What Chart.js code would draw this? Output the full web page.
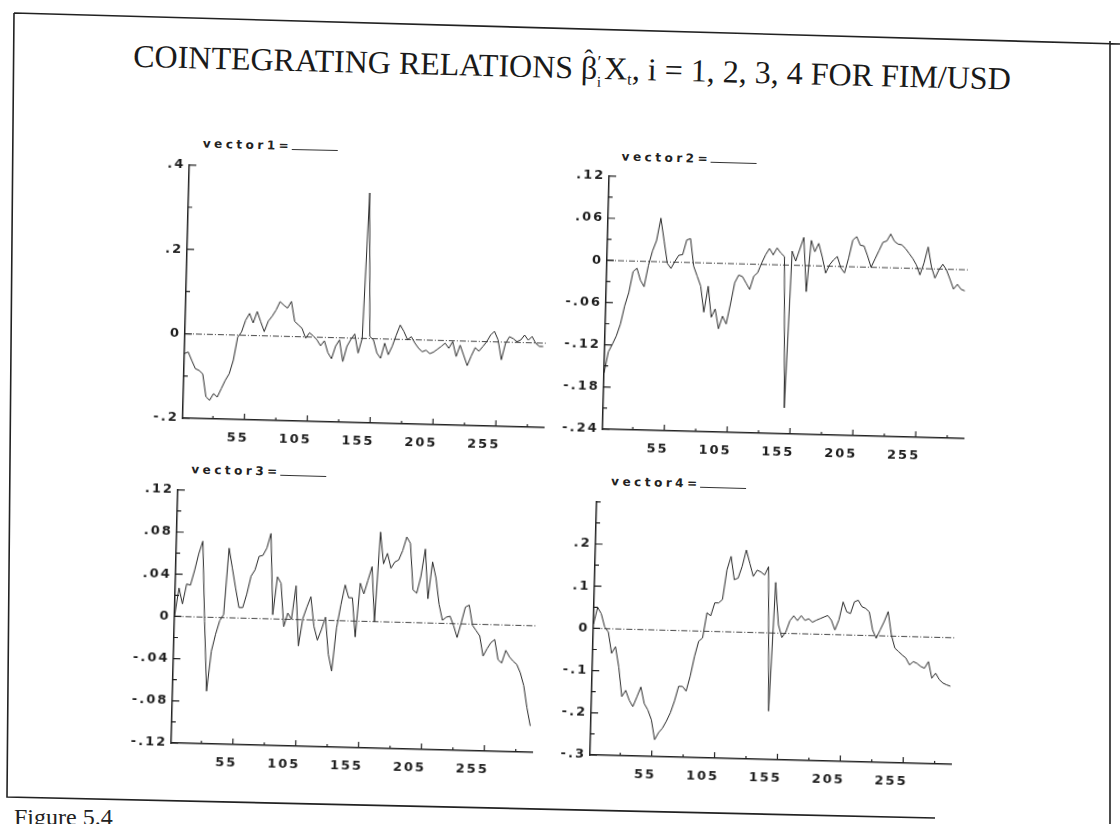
<!DOCTYPE html>
<html>
<head>
<meta charset="utf-8">
<script src="https://cdn.jsdelivr.net/npm/chart.js@4.4.0/dist/chart.umd.min.js"></script>
<style>
  html, body { margin: 0; padding: 0; background: #fff; width: 1120px; height: 824px; overflow: hidden; }
  #frame { position: absolute; left: 0; top: 0; }
  #page { position: absolute; left: 0; top: 0; width: 1120px; height: 824px; transform: rotate(1.5deg); transform-origin: 560px 412px; }
  #title { position: absolute; left: 0; width: 1126px; top: 47px; line-height: 40px; text-align: center; font-family: 'Liberation Serif', serif; font-size: 32px; color: #1a1a1a; white-space: nowrap; }
  #title sub { font-size: 0.5em; vertical-align: -0.3em; }
  .beta { position: relative; }
  .hat { position: absolute; left: 3px; top: -10px; font-style: normal; font-size: 26px; }
  .stack { display: inline-block; position: relative; width: 7px; height: 22px; }
  .stack b { position: absolute; left: 0; font-weight: normal; line-height: 16px; }
  .stack .pr { top: -3px; font-size: 18px; }
  .stack .sb { top: 17px; font-size: 15px; }
  .ptitle { position: absolute; font: bold 12px 'DejaVu Sans', sans-serif; letter-spacing: 3.5px; color: #222; line-height: 16px; white-space: nowrap; }
  .ptitle span { display: inline-block; width: 46px; height: 11px; border-bottom: 1.5px solid #333; vertical-align: top; }
  canvas { position: absolute; }
  #caption { position: absolute; left: 14px; top: 805px; font: 24px 'Liberation Serif', serif; line-height: 24px; color: #222; }
</style>
</head>
<body>
<svg id="frame" width="1120" height="824">
  <path d="M14,13 L1120,44 M1110,41 L1110,824 M14,13 L7,797 L935,818" stroke="#222" stroke-width="1.6" fill="none"/>
</svg>
<div id="page">
  <div id="title">COINTEGRATING RELATIONS <span class="beta">β<i class="hat">ˆ</i></span><span class="stack"><b class="pr">′</b><b class="sb">i</b></span>X<sub>t</sub>, i = 1, 2, 3, 4 FOR FIM/USD</div>
  <div class="ptitle" style="left:196px; top:145px;">vector1=<span></span></div>
  <div class="ptitle" style="left:615px; top:147px;">vector2=<span></span></div>
  <div class="ptitle" style="left:193px; top:471px;">vector3=<span></span></div>
  <div class="ptitle" style="left:613px; top:472px;">vector4=<span></span></div>
  <canvas id="chart1" width="423" height="291" style="left:133px; top:163px;"></canvas>
  <canvas id="chart2" width="423" height="291" style="left:553px; top:163px;"></canvas>
  <canvas id="chart3" width="423" height="291" style="left:130px; top:488px;"></canvas>
  <canvas id="chart4" width="423" height="291" style="left:549px; top:489px;"></canvas>
</div>
<div id="caption">Figure 5.4</div>
<script>
let tValues = [
  6, 9, 12, 15, 18, 21, 24, 27, 30, 33,
  36, 39, 42, 45, 48, 51, 54, 57, 60, 63,
  66, 69, 72, 75, 78, 81, 84, 87, 90, 93,
  96, 99, 102, 105, 108, 111, 114, 117, 120, 123,
  126, 129, 132, 135, 138, 141, 144, 147, 150, 153,
  156, 159, 162, 165, 168, 171, 174, 177, 180, 183,
  186, 189, 192, 195, 198, 201, 204, 207, 210, 213,
  216, 219, 222, 225, 228, 231, 234, 237, 240, 243,
  246, 249, 252, 255, 258, 261, 264, 267, 270, 273,
  276, 279, 282, 285, 288, 291,
];

let vector1 = [
  -0.047, -0.043, -0.063, -0.082, -0.086, -0.094, -0.148, -0.156, -0.14, -0.148,
  -0.128, -0.108, -0.092, -0.06, -0.005, 0.008, 0.036, 0.052, 0.03, 0.057,
  0.033, 0.01, 0.035, 0.047, 0.062, 0.082, 0.074, 0.067, 0.083, 0.036,
  0.028, 0.02, -0.003, 0.01, 0.003, -0.006, -0.02, -0.008, -0.036, -0.05,
  -0.02, -0.005, -0.056, -0.02, -0.003, 0.01, -0.035, 0.0, 0.345, 0.005,
  -0.003, -0.034, -0.046, -0.01, -0.037, -0.017, 0.01, 0.034, 0.019, 0.0,
  0.007, -0.008, -0.02, -0.028, -0.024, -0.032, -0.028, -0.021, -0.014, -0.006,
  -0.018, -0.002, -0.037, -0.01, -0.034, -0.058, -0.035, -0.015, -0.023, -0.012,
  0.0, 0.016, 0.025, 0.005, -0.042, -0.003, 0.013, 0.009, 0.002, 0.006,
  0.018, 0.006, 0.015, -0.001, -0.008, -0.008,
];

let vector2 = [
  -0.16, -0.13, -0.119, -0.107, -0.09, -0.064, -0.045, -0.015, -0.01, -0.027,
  -0.036, -0.006, 0.015, 0.03, 0.062, 0.03, -0.002, -0.009, 0.001, 0.01,
  0.011, 0.032, 0.034, -0.005, -0.019, -0.033, -0.07, -0.033, -0.077, -0.065,
  -0.093, -0.075, -0.086, -0.058, -0.027, -0.016, -0.018, -0.027, -0.036, -0.017,
  -0.012, 0.002, 0.014, 0.023, 0.014, 0.024, 0.017, 0.012, -0.203, 0.02,
  0.006, 0.023, 0.04, -0.037, 0.036, 0.02, 0.032, 0.013, -0.01, 0.002,
  0.009, 0.014, -0.002, -0.009, 0.012, 0.038, 0.043, 0.031, 0.03, 0.016,
  0.0, 0.012, 0.024, 0.036, 0.038, 0.048, 0.038, 0.034, 0.033, 0.028,
  0.021, 0.014, 0.005, -0.009, 0.008, 0.031, 0.003, -0.013, -0.001, 0.007,
  -0.001, -0.014, -0.028, -0.021, -0.028, -0.03,
];

let vector3 = [
  0.0, 0.027, 0.012, 0.031, 0.03, 0.044, 0.06, 0.072, -0.004, -0.07,
  -0.032, -0.016, -0.003, 0.003, 0.066, 0.047, 0.028, 0.01, 0.01, 0.023,
  0.04, 0.046, 0.059, 0.06, 0.067, 0.081, 0.004, 0.04, 0.034, -0.007,
  0.006, 0.0, 0.032, -0.025, 0.001, 0.012, 0.022, -0.006, -0.019, -0.009,
  0.003, -0.032, -0.048, -0.007, 0.015, 0.034, 0.022, 0.022, -0.015, 0.036,
  0.026, 0.039, 0.052, 0.0, 0.085, 0.055, 0.065, 0.051, 0.057, 0.059,
  0.068, 0.081, 0.075, 0.031, 0.028, 0.044, 0.07, 0.023, 0.058, 0.043,
  0.018, 0.003, 0.006, 0.007, -0.002, -0.013, 0.001, 0.016, 0.018, -0.001,
  -0.006, -0.011, -0.03, -0.023, -0.017, -0.014, -0.033, -0.036, -0.024, -0.03,
  -0.034, -0.037, -0.045, -0.057, -0.078, -0.095,
];

let vector4 = [
  0.01, 0.05, 0.035, 0.004, -0.008, -0.058, -0.042, -0.09, -0.16, -0.145,
  -0.168, -0.183, -0.16, -0.136, -0.175, -0.19, -0.213, -0.26, -0.243, -0.232,
  -0.215, -0.195, -0.167, -0.132, -0.132, -0.143, -0.107, -0.06, -0.024, -0.016,
  0.044, 0.037, 0.068, 0.068, 0.076, 0.147, 0.179, 0.124, 0.128, 0.156,
  0.195, 0.164, 0.133, 0.148, 0.144, 0.137, 0.157, -0.185, 0.12, 0.02,
  -0.01, 0.003, 0.03, 0.042, 0.031, 0.043, 0.032, 0.036, 0.028, 0.033,
  0.037, 0.041, 0.045, 0.034, 0.011, 0.035, 0.078, 0.055, 0.051, 0.079,
  0.083, 0.068, 0.064, 0.056, 0.013, -0.006, 0.014, 0.034, 0.058, 0.003,
  -0.028, -0.036, -0.044, -0.051, -0.067, -0.059, -0.063, -0.07, -0.074, -0.058,
  -0.097, -0.085, -0.1, -0.108, -0.112, -0.115,
];

let xTicks = [30, 55, 80, 105, 130, 155, 180, 205, 230, 255, 280];
let xLabels = ['', '55', '', '105', '', '155', '', '205', '', '255', ''];

let yTicks1 = [-0.2, -0.1, 0, 0.1, 0.2, 0.3, 0.4];
let yLabels1 = ['-.2', '', '0', '', '.2', '', '.4'];
let yTicks2 = [-0.24, -0.21, -0.18, -0.15, -0.12, -0.09, -0.06, -0.03, 0, 0.03, 0.06, 0.09, 0.12];
let yLabels2 = ['-.24', '', '-.18', '', '-.12', '', '-.06', '', '0', '', '.06', '', '.12'];
let yTicks3 = [-0.12, -0.1, -0.08, -0.06, -0.04, -0.02, 0, 0.02, 0.04, 0.06, 0.08, 0.1, 0.12];
let yLabels3 = ['-.12', '', '-.08', '', '-.04', '', '0', '', '.04', '', '.08', '', '.12'];
let yTicks4 = [-0.3, -0.25, -0.2, -0.15, -0.1, -0.05, 0, 0.05, 0.1, 0.15, 0.2, 0.25, 0.3];
let yLabels4 = ['-.3', '', '-.2', '', '-.1', '', '0', '', '.1', '', '.2', '', ''];

Chart.defaults.font.family = "'DejaVu Sans', sans-serif";
Chart.defaults.color = '#1e1e1e';

// tick marks point into the plot, like the old printout
let innerTicks = {
  id: 'innerTicks',
  beforeDraw: (chart) => {
    chart.ctx.letterSpacing = '2px';
  },
  afterDraw: (chart) => {
    let { ctx, chartArea, scales } = chart;
    ctx.save();
    ctx.strokeStyle = '#222';
    ctx.lineWidth = 1.2;
    ctx.beginPath();
    scales.y.ticks.forEach((tick) => {
      let y = scales.y.getPixelForValue(tick.value);
      let len = tick.label ? 7 : 4;
      ctx.moveTo(chartArea.left, y);
      ctx.lineTo(chartArea.left + len, y);
    });
    scales.x.ticks.forEach((tick) => {
      let x = scales.x.getPixelForValue(tick.value);
      let len = tick.label ? 6 : 3;
      ctx.moveTo(x, chartArea.bottom);
      ctx.lineTo(x, chartArea.bottom - len);
    });
    ctx.stroke();
    ctx.restore();
  },
};

let makePanel = (id, values, yMin, yMax, yTicks, yLabels) => {
  let ctx = document.getElementById(id).getContext('2d');

  let data = {
    datasets: [
      {
        label: id,
        data: tValues.map((t, i) => ({ x: t, y: values[i] })),
        borderColor: '#2a2a2a',
        borderWidth: 1,
        pointRadius: 0,
        tension: 0,
      },
      {
        label: 'zero',
        data: [
          { x: 6, y: 0 },
          { x: 293, y: 0 },
        ],
        borderColor: '#444',
        borderWidth: 1,
        borderDash: [6, 2, 1, 2],
        pointRadius: 0,
      },
    ],
  };

  new Chart(ctx, {
    type: 'line',
    data: data,
    plugins: [innerTicks],
    options: {
      responsive: false,
      animation: false,
      layout: { padding: { top: 10, right: 12, bottom: 0, left: 0 } },
      plugins: {
        legend: { display: false },
        tooltip: { enabled: false },
      },
      scales: {
        x: {
          type: 'linear',
          min: 6,
          max: 293,
          afterBuildTicks: (axis) => {
            axis.ticks = xTicks.map((v) => ({ value: v }));
          },
          afterFit: (axis) => {
            axis.height = 26;
          },
          grid: { display: false, drawTicks: false },
          border: { display: true, color: '#222', width: 1.5 },
          ticks: {
            autoSkip: false,
            maxRotation: 0,
            align: 'end',
            labelOffset: 5,
            padding: 11,
            font: { size: 13, weight: 'bold' },
            callback: (value, index) => xLabels[index],
          },
        },
        y: {
          min: yMin,
          max: yMax,
          afterBuildTicks: (axis) => {
            axis.ticks = yTicks.map((v) => ({ value: v }));
          },
          afterFit: (axis) => {
            axis.width = 50;
          },
          grid: { display: false, drawTicks: false },
          border: { display: true, color: '#222', width: 1.5 },
          ticks: {
            autoSkip: false,
            padding: 4,
            font: { size: 13, weight: 'bold' },
            callback: (value, index) => yLabels[index],
          },
        },
      },
    },
  });
};

makePanel('chart1', vector1, -0.2, 0.4, yTicks1, yLabels1);
makePanel('chart2', vector2, -0.24, 0.12, yTicks2, yLabels2);
makePanel('chart3', vector3, -0.12, 0.12, yTicks3, yLabels3);
makePanel('chart4', vector4, -0.3, 0.3, yTicks4, yLabels4);
</script>
</body>
</html>
